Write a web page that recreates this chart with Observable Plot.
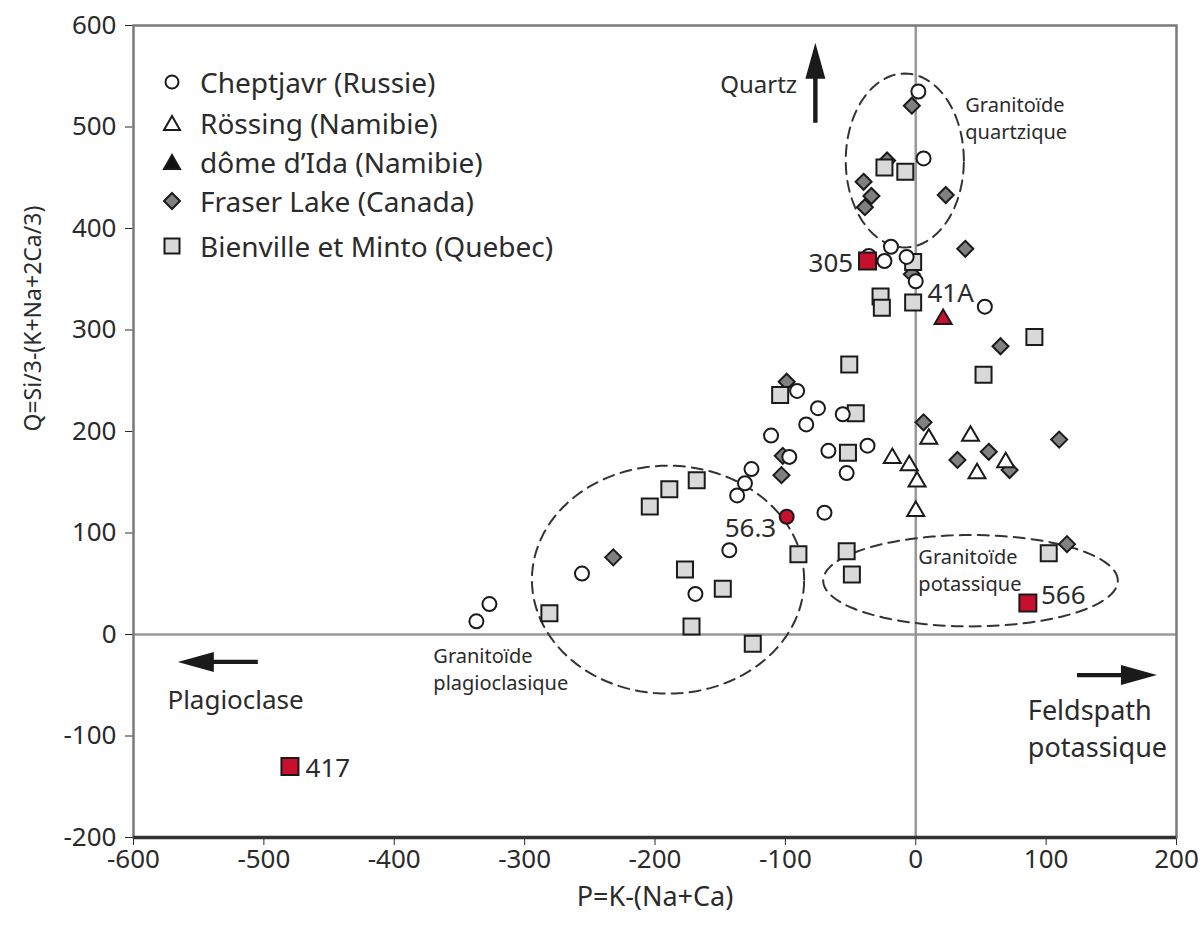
<!DOCTYPE html>
<html><head><meta charset="utf-8">
<script src="https://cdn.jsdelivr.net/npm/d3@7"></script>
<script src="https://cdn.jsdelivr.net/npm/@observablehq/plot@0.6"></script>
<style>
body{margin:0;background:#fff;font-family:"Noto Sans",sans-serif;color:#2b2b2b;}
#wrap{position:relative;width:1202px;height:925px;}
#legend{position:absolute;left:0;top:0;}
.row{position:absolute;display:flex;align-items:center;height:30px;font-size:28px;white-space:nowrap;}
.row svg{width:26px;height:26px;margin-right:15px;flex:none;}
</style></head><body><div id="wrap"><div id="legend"></div></div>
<script>
const xTicks = [-600,-500,-400,-300,-200,-100,0,100,200];
const yTicks = [-200,-100,0,100,200,300,400,500,600];
const xTitle = "P=K-(Na+Ca)";
const yTitle = "Q=Si/3-(K+Na+2Ca/3)";

// Cheptjavr (Russie) – open circles
const cheptjavr = [[2,535],[6,469],[-19,382],[-36,373],[-24,368],[-7,372],[0,348],[53,323],
  [-91,240],[-75,223],[-56,217],[-84,207],[-111,196],[-67,181],[-37,186],[-97,175],[-53,159],
  [-126,163],[-131,149],[-137,137],[-70,120],[-143,83],[-256,60],[-169,40],[-327,30],[-337,13]];
// Rössing (Namibie) – open triangles
const rossing = [[-18,176],[-5,169],[1,153],[0,124],[10,195],[42,198],[47,161],[69,172]];
// dôme d'Ida (Namibie) – filled triangle
const ida = [[21,313]];
// Fraser Lake (Canada) – diamonds
const fraser = [[-3,521],[-22,467],[-40,446],[-34,432],[-39,421],[23,433],[38,380],[-3,355],
  [-99,249],[-102,176],[-103,157],[6,209],[32,172],[56,180],[72,162],[110,192],[65,284],[116,89],[-232,76]];
// Bienville et Minto (Quebec) – squares
const bienville = [[-24,460],[-8,456],[-2,367],[-27,333],[-26,322],[-2,327],[91,293],[52,256],
  [-51,266],[-104,236],[-46,218],[-52,179],[-168,152],[-189,143],[-204,126],[-90,79],[-53,82],
  [-49,59],[-177,64],[-148,45],[-281,21],[-172,8],[-125,-9],[102,80]];
// highlighted samples
const redSquares = [[-37,368],[86,31],[-480,-130]];
const redCircles = [[-99,116]];

const legendItems = [
  {label:"Cheptjavr (Russie)", shape:"circle", fill:"#fff"},
  {label:"Rössing (Namibie)", shape:"triangle", fill:"#fff"},
  {label:"dôme d’Ida (Namibie)", shape:"triangle", fill:"#111"},
  {label:"Fraser Lake (Canada)", shape:"diamond", fill:"#808080"},
  {label:"Bienville et Minto (Quebec)", shape:"square", fill:"#d9d9d9"}
];

const annotations = [
  {x:-91, y:544, text:"Quartz", anchor:"end", size:24},
  {x:38, y:510, text:"Granitoïde\nquartzique", anchor:"start", size:20},
  {x:-48, y:368, text:"305", anchor:"end", size:26},
  {x:9, y:339, text:"41A", anchor:"start", size:26},
  {x:-107, y:107, text:"56.3", anchor:"end", size:26},
  {x:2, y:64.5, text:"Granitoïde\npotassique", anchor:"start", size:20},
  {x:96, y:41, text:"566", anchor:"start", size:26},
  {x:-370, y:-32.5, text:"Granitoïde\nplagioclasique", anchor:"start", size:20},
  {x:-574, y:-62, text:"Plagioclase", anchor:"start", size:26},
  {x:86, y:-91, text:"Feldspath\npotassique", anchor:"start", size:27},
  {x:-468, y:-129, text:"417", anchor:"start", size:26}
];

// arrow tips
const arrows = [
  {x:-77, y:583, dir:"up"},
  {x:-566, y:-27, dir:"left"},
  {x:185, y:-40, dir:"right"}
];

// dashed ellipses (center, radii in data units)
const ellipses = [
  {cx:-8.4, cy:467, rx:45.3, ry:85.7},
  {cx:-190, cy:54, rx:104.4, ry:112.3},
  {cx:42, cy:53, rx:113, ry:45}
];

const red = "#c8102e";

// symbols
const squareSym = s => ({draw(c){c.rect(-s/2,-s/2,s,s);}});
const diamondSym = s => ({draw(c){c.moveTo(0,-s);c.lineTo(s,0);c.lineTo(0,s);c.lineTo(-s,0);c.closePath();}});
const triSym = (w,h) => ({draw(c){c.moveTo(0,-h/2);c.lineTo(w/2,h/2);c.lineTo(-w/2,h/2);c.closePath();}});
const HL=36, HW=10, SL=44, SW=2.2;
const arrowSym = {
  up:{draw(c){c.moveTo(0,0);c.lineTo(HW,HL);c.lineTo(SW,HL);c.lineTo(SW,HL+SL);c.lineTo(-SW,HL+SL);c.lineTo(-SW,HL);c.lineTo(-HW,HL);c.closePath();}},
  left:{draw(c){c.moveTo(0,0);c.lineTo(HL,-HW);c.lineTo(HL,-SW);c.lineTo(HL+SL,-SW);c.lineTo(HL+SL,SW);c.lineTo(HL,SW);c.lineTo(HL,HW);c.closePath();}},
  right:{draw(c){c.moveTo(0,0);c.lineTo(-HL,-HW);c.lineTo(-HL,-SW);c.lineTo(-HL-SL,-SW);c.lineTo(-HL-SL,SW);c.lineTo(-HL,SW);c.lineTo(-HL,HW);c.closePath();}}
};

const ellipsePts = ellipses.flatMap((e,k) => d3.range(0,360,3).map(a => ({
  k, x: e.cx + e.rx*Math.cos(a*Math.PI/180), y: e.cy + e.ry*Math.sin(a*Math.PI/180)
})));

const X = d => d[0], Y = d => d[1];
const ink = "#1a1a1a";

const plot = Plot.plot({
  width:1202, height:925,
  marginLeft:133, marginRight:26, marginTop:25, marginBottom:88,
  style:{fontFamily:'"Noto Sans", sans-serif', fontSize:"26px", color:"#2b2b2b", background:"#fff", overflow:"visible"},
  x:{domain:[-600,200], ticks:xTicks, tickSize:8, tickPadding:4, tickFormat:d=>String(d), label:null},
  y:{domain:[-200,600], ticks:yTicks, tickSize:8, tickPadding:9, tickFormat:d=>String(d), label:null},
  marks:[
    Plot.ruleX([0],{stroke:"#999",strokeWidth:2.5}),
    Plot.ruleY([0],{stroke:"#999",strokeWidth:2.5}),
    Plot.frame({stroke:"#7a7a7a",strokeWidth:2.5}),
    Plot.ruleY([-200],{stroke:"#333",strokeWidth:3.5}),
    Plot.line(ellipsePts,{x:"x",y:"y",z:"k",curve:"linear-closed",stroke:"#333",strokeWidth:2,strokeDasharray:"11,7"}),
    Plot.dot(fraser,{x:X,y:Y,symbol:diamondSym(8),fill:"#808080",stroke:ink,strokeWidth:2}),
    Plot.dot(bienville,{x:X,y:Y,symbol:squareSym(16),fill:"#d9d9d9",stroke:ink,strokeWidth:2}),
    Plot.dot(cheptjavr,{x:X,y:Y,r:7,fill:"#fff",stroke:ink,strokeWidth:2}),
    Plot.dot(rossing,{x:X,y:Y,symbol:triSym(17,14.5),fill:"#fff",stroke:ink,strokeWidth:2}),
    Plot.dot(ida,{x:X,y:Y,symbol:triSym(17,14.5),fill:red,stroke:ink,strokeWidth:2}),
    Plot.dot(redCircles,{x:X,y:Y,r:7,fill:red,stroke:ink,strokeWidth:2}),
    Plot.dot(redSquares,{x:X,y:Y,symbol:squareSym(17),fill:red,stroke:ink,strokeWidth:2}),
    Plot.dot(arrows.filter(a=>a.dir==="up"),{x:"x",y:"y",symbol:arrowSym.up,fill:ink,stroke:"none"}),
    Plot.dot(arrows.filter(a=>a.dir==="left"),{x:"x",y:"y",symbol:arrowSym.left,fill:ink,stroke:"none"}),
    Plot.dot(arrows.filter(a=>a.dir==="right"),{x:"x",y:"y",symbol:arrowSym.right,fill:ink,stroke:"none"}),
    ...annotations.map(a => Plot.text([a],{x:"x",y:"y",text:"text",textAnchor:a.anchor,fontSize:a.size,lineHeight:1.35,fill:"#2b2b2b"})),
    Plot.text([xTitle],{frameAnchor:"bottom",dy:68,text:d=>d,fontSize:27,fill:"#2b2b2b"}),
    Plot.text([yTitle],{frameAnchor:"left",dx:-100,rotate:-90,text:d=>d,fontSize:23,fill:"#2b2b2b"})
  ]
});
document.getElementById("wrap").prepend(plot);

// legend
const leg = document.getElementById("legend");
const rowY = [82,123,162,201,246];
legendItems.forEach((it,i) => {
  const row = document.createElement("div");
  row.className = "row";
  row.style.left = "159px";
  row.style.top = (rowY[i]-15) + "px";
  let shape = "";
  if (it.shape==="circle") shape = `<circle cx="13" cy="13" r="6.5" fill="${it.fill}" stroke="#1a1a1a" stroke-width="2"/>`;
  if (it.shape==="triangle") shape = `<polygon points="13,6 21,20 5,20" fill="${it.fill}" stroke="#1a1a1a" stroke-width="2"/>`;
  if (it.shape==="diamond") shape = `<polygon points="13,5 21,13 13,21 5,13" fill="${it.fill}" stroke="#1a1a1a" stroke-width="2"/>`;
  if (it.shape==="square") shape = `<rect x="5.5" y="5.5" width="15" height="15" fill="${it.fill}" stroke="#1a1a1a" stroke-width="2"/>`;
  row.innerHTML = `<svg viewBox="0 0 26 26">${shape}</svg><span>${it.label}</span>`;
  leg.appendChild(row);
});
</script>
</body></html>
